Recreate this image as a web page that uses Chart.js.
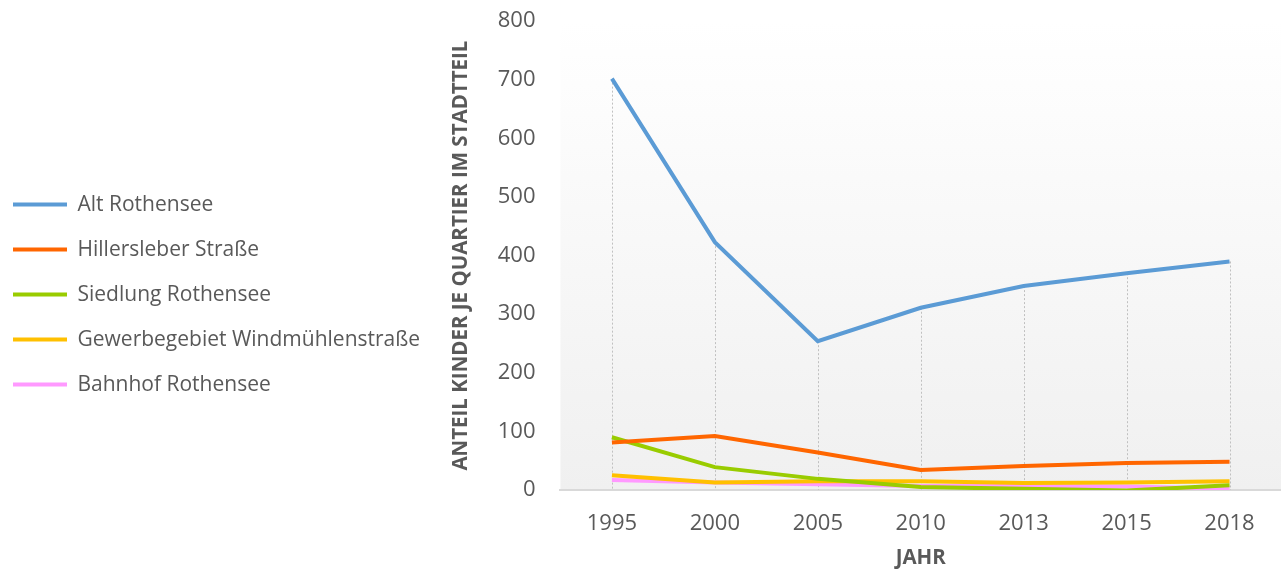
<!DOCTYPE html>
<html>
<head>
<meta charset="utf-8">
<script src="https://cdn.jsdelivr.net/npm/chart.js@4"></script>
<style>
  html, body { margin: 0; padding: 0; background: #fff; }
  #wrap { width: 1281px; height: 570px; }
</style>
</head>
<body>
<div id="wrap"><canvas id="chart"></canvas></div>
<script>
const years = ['1995', '2000', '2005', '2010', '2013', '2015', '2018'];
const altRothensee = [702, 423, 254, 311, 348, 370, 390];
const hillerslebe = [81, 92, 64, 34, 41, 46, 48];
const siedlung = [90, 39, 19, 5, 2, -1, 8];
const gewerbe = [25, 13, 15, 15, 12, 13, 15];
const bahnhof = [17, 13, 10, 7, 7, 6, 2];
const yTicks = [0, 100, 200, 300, 400, 500, 600, 700, 800];

const txt = '#595959';
const fontFam = '"Open Sans", sans-serif';
const clear = 'rgba(0,0,0,0)';

// plot background gradient
const plotBg = {
  id: 'plotBg',
  beforeDraw(chart) {
    const { ctx, chartArea: a } = chart;
    const g = ctx.createLinearGradient(0, a.top, 0, a.bottom);
    g.addColorStop(0, '#ffffff');
    g.addColorStop(1, '#f0f0f0');
    ctx.save();
    ctx.fillStyle = g;
    ctx.fillRect(a.left, a.top, a.right - a.left, a.bottom - a.top);
    ctx.restore();
  }
};

// excel style drop lines from the highest point to the axis
const dropLines = {
  id: 'dropLines',
  beforeDatasetsDraw(chart) {
    const { ctx, chartArea: a } = chart;
    ctx.save();
    ctx.strokeStyle = '#c0c0c0';
    ctx.lineWidth = 1;
    ctx.setLineDash([2, 2]);
    years.forEach((_, i) => {
      let top = a.bottom;
      chart.data.datasets.forEach((ds, d) => {
        const p = chart.getDatasetMeta(d).data[i];
        if (p && p.y < top) top = p.y;
      });
      const x = Math.round(chart.getDatasetMeta(0).data[i].x) + 0.5;
      ctx.beginPath();
      ctx.moveTo(x, top);
      ctx.lineTo(x, a.bottom);
      ctx.stroke();
    });
    ctx.restore();
  }
};

function series(label, data, color) {
  return {
    label: label,
    data: data,
    borderColor: color,
    backgroundColor: color,
    borderWidth: 4,
    pointRadius: 0,
    pointStyle: 'line',
    tension: 0
  };
}

new Chart(document.getElementById('chart'), {
  type: 'line',
  data: {
    labels: years,
    datasets: [
      series('Alt Rothensee', altRothensee, '#5b9bd5'),
      series('Hillersleber Straße', hillerslebe, '#ff6600'),
      series('Siedlung Rothensee', siedlung, '#99cc00'),
      series('Gewerbegebiet Windmühlenstraße', gewerbe, '#ffc000'),
      series('Bahnhof Rothensee', bahnhof, '#ff99ff')
    ]
  },
  options: {
    responsive: true,
    maintainAspectRatio: false,
    animation: false,
    layout: { padding: { top: 0, right: -2, left: -11, bottom: 0 } },
    plugins: {
      legend: {
        position: 'left',
        maxWidth: 520,
        title: { display: true, text: ' ', padding: 0, font: { size: 16 } },
        labels: {
          usePointStyle: true,
          pointStyleWidth: 54,
          boxHeight: 4,
          padding: 24,
          color: txt,
          font: { family: fontFam, size: 21 }
        }
      },
      tooltip: { enabled: false }
    },
    scales: {
      x: {
        offset: true,
        grid: { display: true, drawOnChartArea: false, drawTicks: true, tickLength: 21, tickColor: clear, color: clear },
        border: { color: '#d9d9d9', width: 2 },
        ticks: { color: txt, padding: 0, font: { family: fontFam, size: 22 } },
        title: { display: true, text: 'JAHR', color: txt, padding: { top: 8, bottom: 0 }, font: { family: fontFam, size: 20.5, weight: 'bold' } }
      },
      y: {
        min: 0,
        max: 800,
        afterBuildTicks(axis) { axis.ticks = yTicks.map(v => ({ value: v })); },
        grid: { display: true, drawOnChartArea: false, drawTicks: true, tickLength: 17, tickColor: clear, color: clear },
        border: { display: false },
        ticks: { color: txt, padding: 8, font: { family: fontFam, size: 22 } },
        title: { display: true, text: 'ANTEIL KINDER JE QUARTIER IM STADTTEIL', color: txt, padding: { top: 19, bottom: 16 }, font: { family: fontFam, size: 20.5, weight: 'bold' } }
      }
    }
  },
  plugins: [plotBg, dropLines]
});
</script>
</body>
</html>
